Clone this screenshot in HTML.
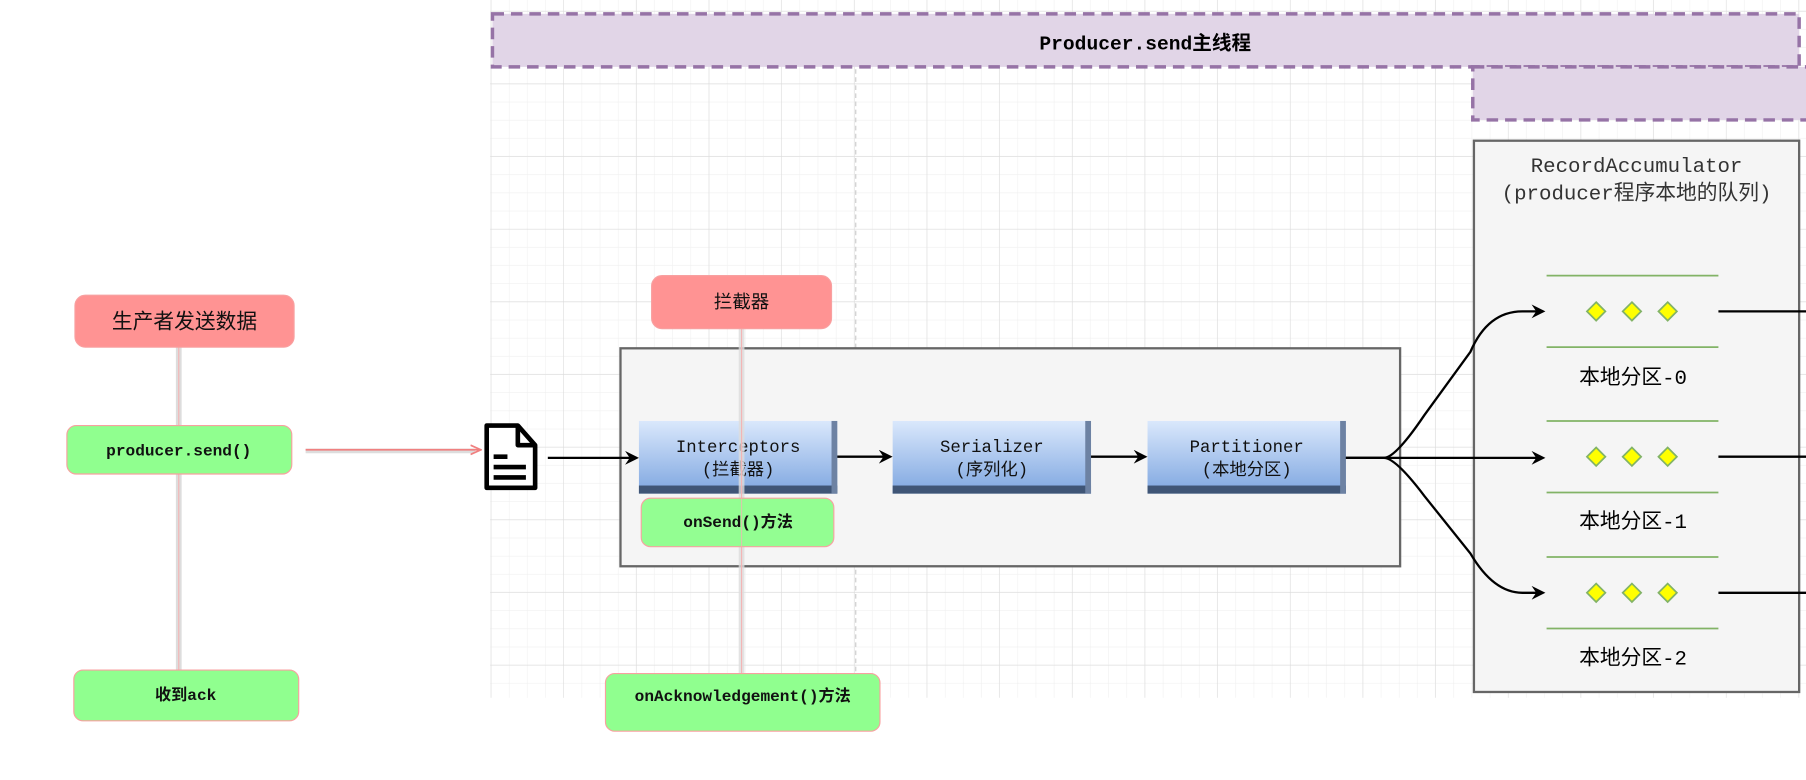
<!DOCTYPE html>
<html><head><meta charset="utf-8"><style>
html,body{margin:0;padding:0;background:#fff;width:1806px;height:774px;overflow:hidden}
#w{position:absolute;left:0;top:0;width:1566px;height:671px;transform:scale(1.1533);transform-origin:0 0}
.t{font-family:"Liberation Mono","Noto Sans CJK SC",monospace}
</style></head><body><div id="w">
<svg width="1566" height="671" xmlns="http://www.w3.org/2000/svg">
<defs>
<pattern id="gm" x="426" y="10" width="15.75" height="15.75" patternUnits="userSpaceOnUse"><path d="M15.75 0V15.75H0" fill="none" stroke="#f0f0f0" stroke-width="1"/></pattern>
<pattern id="gM" x="426" y="10" width="63" height="63" patternUnits="userSpaceOnUse"><path d="M63 0V63H0" fill="none" stroke="#dcdcdc" stroke-width="1"/></pattern>
<linearGradient id="bl" x1="0" y1="0" x2="0" y2="1"><stop offset="0" stop-color="#dae8fc"/><stop offset="1" stop-color="#7ea6e0"/></linearGradient>
<marker id="ar" markerWidth="12" markerHeight="12" refX="10" refY="6" orient="auto" markerUnits="userSpaceOnUse"><path d="M0,0 L12,6 L0,12 L4,6Z" fill="#000"/></marker>
<marker id="pa" markerWidth="10" markerHeight="10" refX="8" refY="5" orient="auto" markerUnits="userSpaceOnUse"><path d="M0,1 L9,5 L0,9" fill="none" stroke="#f08080" stroke-width="1.5"/></marker>
</defs>
<rect x="425" y="0" width="1141" height="605" fill="url(#gm)"/>
<rect x="425" y="0" width="1141" height="605" fill="url(#gM)"/>
<line x1="742" y1="60" x2="742" y2="605" stroke="#ccc" stroke-dasharray="4,3"/>
<rect x="427" y="12" width="1133" height="46" fill="#e1d5e7" stroke="#9673a6" stroke-width="3" stroke-dasharray="10,6"/>
<rect x="1277" y="58" width="300" height="46" fill="#e1d5e7" stroke="#9673a6" stroke-width="3" stroke-dasharray="10,6"/>
<text x="993" y="43" class="t" font-size="17" font-weight="bold" text-anchor="middle">Producer.send主线程</text>
<!-- Accumulator -->
<rect x="1278" y="122" width="282" height="478" fill="#f5f5f5" stroke="#666" stroke-width="2"/>
<text x="1419" y="149" class="t" font-size="18" fill="#333" text-anchor="middle">RecordAccumulator</text>
<text x="1419" y="173" class="t" font-size="18" fill="#333" text-anchor="middle">(producer程序本地的队列)</text>
<g stroke="#82b366" stroke-width="1.5">
<line x1="1341" y1="239" x2="1490" y2="239"/><line x1="1341" y1="301" x2="1490" y2="301"/>
<line x1="1341" y1="365" x2="1490" y2="365"/><line x1="1341" y1="427" x2="1490" y2="427"/>
<line x1="1341" y1="483" x2="1490" y2="483"/><line x1="1341" y1="545" x2="1490" y2="545"/>
</g>
<g fill="#ffff00" stroke="#82b366" stroke-width="1.5">
<path d="M1384 262l8 8-8 8-8-8z"/><path d="M1415 262l8 8-8 8-8-8z"/><path d="M1446 262l8 8-8 8-8-8z"/>
<path d="M1384 388l8 8-8 8-8-8z"/><path d="M1415 388l8 8-8 8-8-8z"/><path d="M1446 388l8 8-8 8-8-8z"/>
<path d="M1384 506l8 8-8 8-8-8z"/><path d="M1415 506l8 8-8 8-8-8z"/><path d="M1446 506l8 8-8 8-8-8z"/>
</g>
<g font-size="18" text-anchor="middle" class="t" fill="#000">
<text x="1416" y="333">本地分区-0</text><text x="1416" y="458">本地分区-1</text><text x="1416" y="576">本地分区-2</text>
</g>
<g stroke="#000" stroke-width="2"><line x1="1490" y1="270" x2="1566" y2="270"/><line x1="1490" y1="396" x2="1566" y2="396"/><line x1="1490" y1="514" x2="1566" y2="514"/></g>
<!-- main box -->
<rect x="538" y="302" width="676" height="189" fill="#f5f5f5" stroke="#666" stroke-width="2"/>
<g>
<rect x="554" y="365" width="172" height="63" fill="url(#bl)"/>
<rect x="554" y="421" width="172" height="7" fill="#3f5576"/><rect x="721" y="365" width="5" height="63" fill="#6d82a3"/>
<rect x="774" y="365" width="172" height="63" fill="url(#bl)"/>
<rect x="774" y="421" width="172" height="7" fill="#3f5576"/><rect x="941" y="365" width="5" height="63" fill="#6d82a3"/>
<rect x="995" y="365" width="172" height="63" fill="url(#bl)"/>
<rect x="995" y="421" width="172" height="7" fill="#3f5576"/><rect x="1162" y="365" width="5" height="63" fill="#6d82a3"/>
</g>
<g class="t" font-size="15" text-anchor="middle" fill="#111">
<text x="640" y="392">Interceptors</text><text x="640" y="412">(拦截器)</text>
<text x="860" y="392">Serializer</text><text x="860" y="412">(序列化)</text>
<text x="1081" y="392">Partitioner</text><text x="1081" y="412">(本地分区)</text>
</g>
<g stroke="#000" stroke-width="2" fill="none" marker-end="url(#ar)">
<line x1="475" y1="397" x2="552" y2="397"/>
<line x1="726" y1="396" x2="772" y2="396"/>
<line x1="946" y1="396" x2="993" y2="396"/>
<path d="M1167 397 H1200 Q1210 397 1235 360 L1275 305 Q1290 270 1320 270 H1338"/>
<path d="M1167 397 H1338"/>
<path d="M1167 397 H1200 Q1210 397 1235 430 L1275 480 Q1295 514 1320 514 H1338"/>
</g>
<!-- doc icon -->
<g stroke="#000" stroke-width="4" fill="#fff" stroke-linejoin="round">
<path d="M422 369 H449 L464 386 V423 H422 Z"/><path d="M449 369 V386 H464" fill="none"/>
<line x1="428" y1="396" x2="440" y2="396"/><line x1="428" y1="405" x2="456" y2="405"/><line x1="428" y1="414" x2="456" y2="414"/>
</g>
<!-- left & vertical lines -->
<line x1="155" y1="301" x2="155" y2="581" stroke="#ddd" stroke-width="5"/>
<line x1="155" y1="301" x2="155" y2="581" stroke="#f3b5b5" stroke-width="1"/>
<line x1="643" y1="285" x2="643" y2="584" stroke="#ddd" stroke-width="5" opacity="0.8"/>
<line x1="643" y1="285" x2="643" y2="584" stroke="#f3b5b5" stroke-width="1"/>
<line x1="265" y1="391" x2="412" y2="391" stroke="#ddd" stroke-width="4"/>
<line x1="265" y1="390" x2="416" y2="390" stroke="#f08080" stroke-width="1.5" marker-end="url(#pa)"/>
<g stroke="#f8a0a0" stroke-width="1">
<rect x="65" y="256" width="190" height="45" rx="9" fill="#ff9393"/>
<rect x="565" y="239" width="156" height="46" rx="9" fill="#ff9393"/>
<rect x="58" y="369" width="195" height="42" rx="8" fill="#90ff8f"/>
<rect x="64" y="581" width="195" height="44" rx="8" fill="#90ff8f"/>
<rect x="525" y="584" width="238" height="50" rx="8" fill="#90ff8f"/>
<rect x="556" y="432" width="167" height="42" rx="8" fill="#90ff8f" opacity="0.97"/>
</g>
<line x1="643" y1="432" x2="643" y2="474" stroke="#f3b5b5" stroke-width="1" opacity="0.7"/>
<g class="t" text-anchor="middle" fill="#111">
<text x="160" y="285" font-size="18">生产者发送数据</text>
<text x="643" y="267" font-size="16">拦截器</text>
<text x="155" y="395" font-size="14" font-weight="bold">producer.send()</text>
<text x="161" y="607" font-size="14" font-weight="bold">收到ack</text>
<text x="644" y="608" font-size="14" font-weight="bold">onAcknowledgement()方法</text>
<text x="640" y="457" font-size="14" font-weight="bold">onSend()方法</text>
</g>
</svg>
</div></body></html>
